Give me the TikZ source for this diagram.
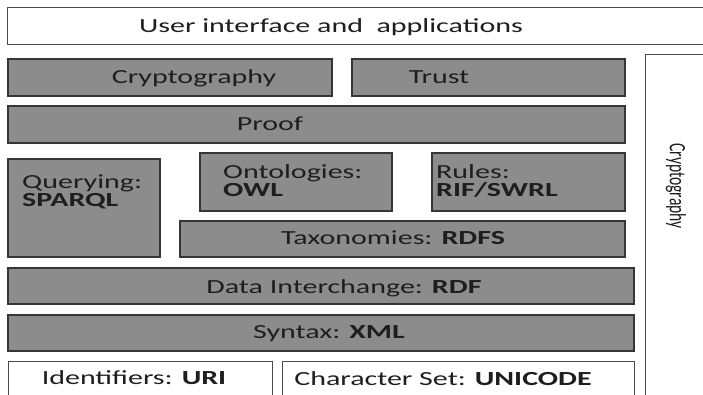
\documentclass[tikz,border=0pt]{standalone}
\usepackage{fontspec}
\setmainfont{Carlito}[FakeStretch=1.5]
\newfontfamily\rotfont{Carlito}
\definecolor{boxgray}{HTML}{8C8C8C}
\definecolor{edgegray}{HTML}{363636}
\definecolor{wedge}{HTML}{4A4A4A}
\definecolor{txt}{HTML}{1E1E1E}
\tikzset{
  graybox/.style={draw=edgegray, fill=boxgray, line width=1.2pt, anchor=north west, inner sep=0pt, outer sep=0pt},
  whitebox/.style={draw=wedge, fill=white, line width=1pt, anchor=north west, inner sep=0pt, outer sep=0pt},
  lbl/.style={text=txt, font=\fontsize{20}{18}\selectfont, inner sep=0pt, anchor=base},
  lbll/.style={lbl, anchor=north west, align=left},
}
\begin{document}
\begin{tikzpicture}[x=1pt,y=-1pt]
\useasboundingbox (0,0) rectangle (703,394);
\clip (0,0) rectangle (703,394);
\fill[white] (0,0) rectangle (703,394);
% boxes
\node[whitebox, minimum width=705pt, minimum height=37pt] (ui) at (7,7) {};
\node[whitebox, minimum width=70pt, minimum height=350pt] (cryR) at (645,54) {};
\node[graybox, minimum width=324pt, minimum height=37pt] (cry) at (8,59) {};
\node[graybox, minimum width=273pt, minimum height=37pt] (trust) at (352,59) {};
\node[graybox, minimum width=617pt, minimum height=37pt] (proof) at (8,106) {};
\node[graybox, minimum width=152pt, minimum height=98pt] (query) at (8,159) {};
\node[graybox, minimum width=192pt, minimum height=58pt] (onto) at (200,153) {};
\node[graybox, minimum width=193pt, minimum height=58pt] (rules) at (432,153) {};
\node[graybox, minimum width=445pt, minimum height=36pt] (taxo) at (180,221) {};
\node[graybox, minimum width=626pt, minimum height=36pt] (data) at (8,268) {};
\node[graybox, minimum width=626pt, minimum height=36pt] (syn) at (8,315) {};
\node[whitebox, minimum width=264pt, minimum height=45pt] (ident) at (8,361) {};
\node[whitebox, minimum width=352pt, minimum height=45pt] (chars) at (282,361) {};
% labels
\node[lbl] (tui) at (331,32) {User interface and\ \ applications};
\node[lbl] (tcry) at (194,83) {Cryptography};
\node[lbl] (ttrust) at (439,83) {Trust};
\node[lbl] (tproof) at (270,130) {Proof};
\node[lbll] (tq) at (22,175) {Querying:\\\textbf{SPARQL}};
\node[lbll] (to) at (223,164.5) {Ontologies:\\\textbf{OWL}};
\node[lbll] (tr) at (436,164.5) {Rules:\\\textbf{RIF/SWRL}};
\node[lbl] (ttaxo) at (393,244) {Taxonomies: \textbf{RDFS}};
\node[lbl] (tdata) at (344,293) {Data Interchange: \textbf{RDF}};
\node[lbl] (tsyn) at (329,338) {Syntax: \textbf{XML}};
\node[lbl] (tident) at (134,384) {Identifiers: \textbf{URI}};
\node[lbl] (tchars) at (443,385) {Character Set: \textbf{UNICODE}};
\node[text=txt, inner sep=0pt, rotate=-90] (tcryR) at (676,186) {\scalebox{1}[1.5]{\rotfont\fontsize{15.6}{16}\selectfont Cryptography}};
\end{tikzpicture}
\end{document}
